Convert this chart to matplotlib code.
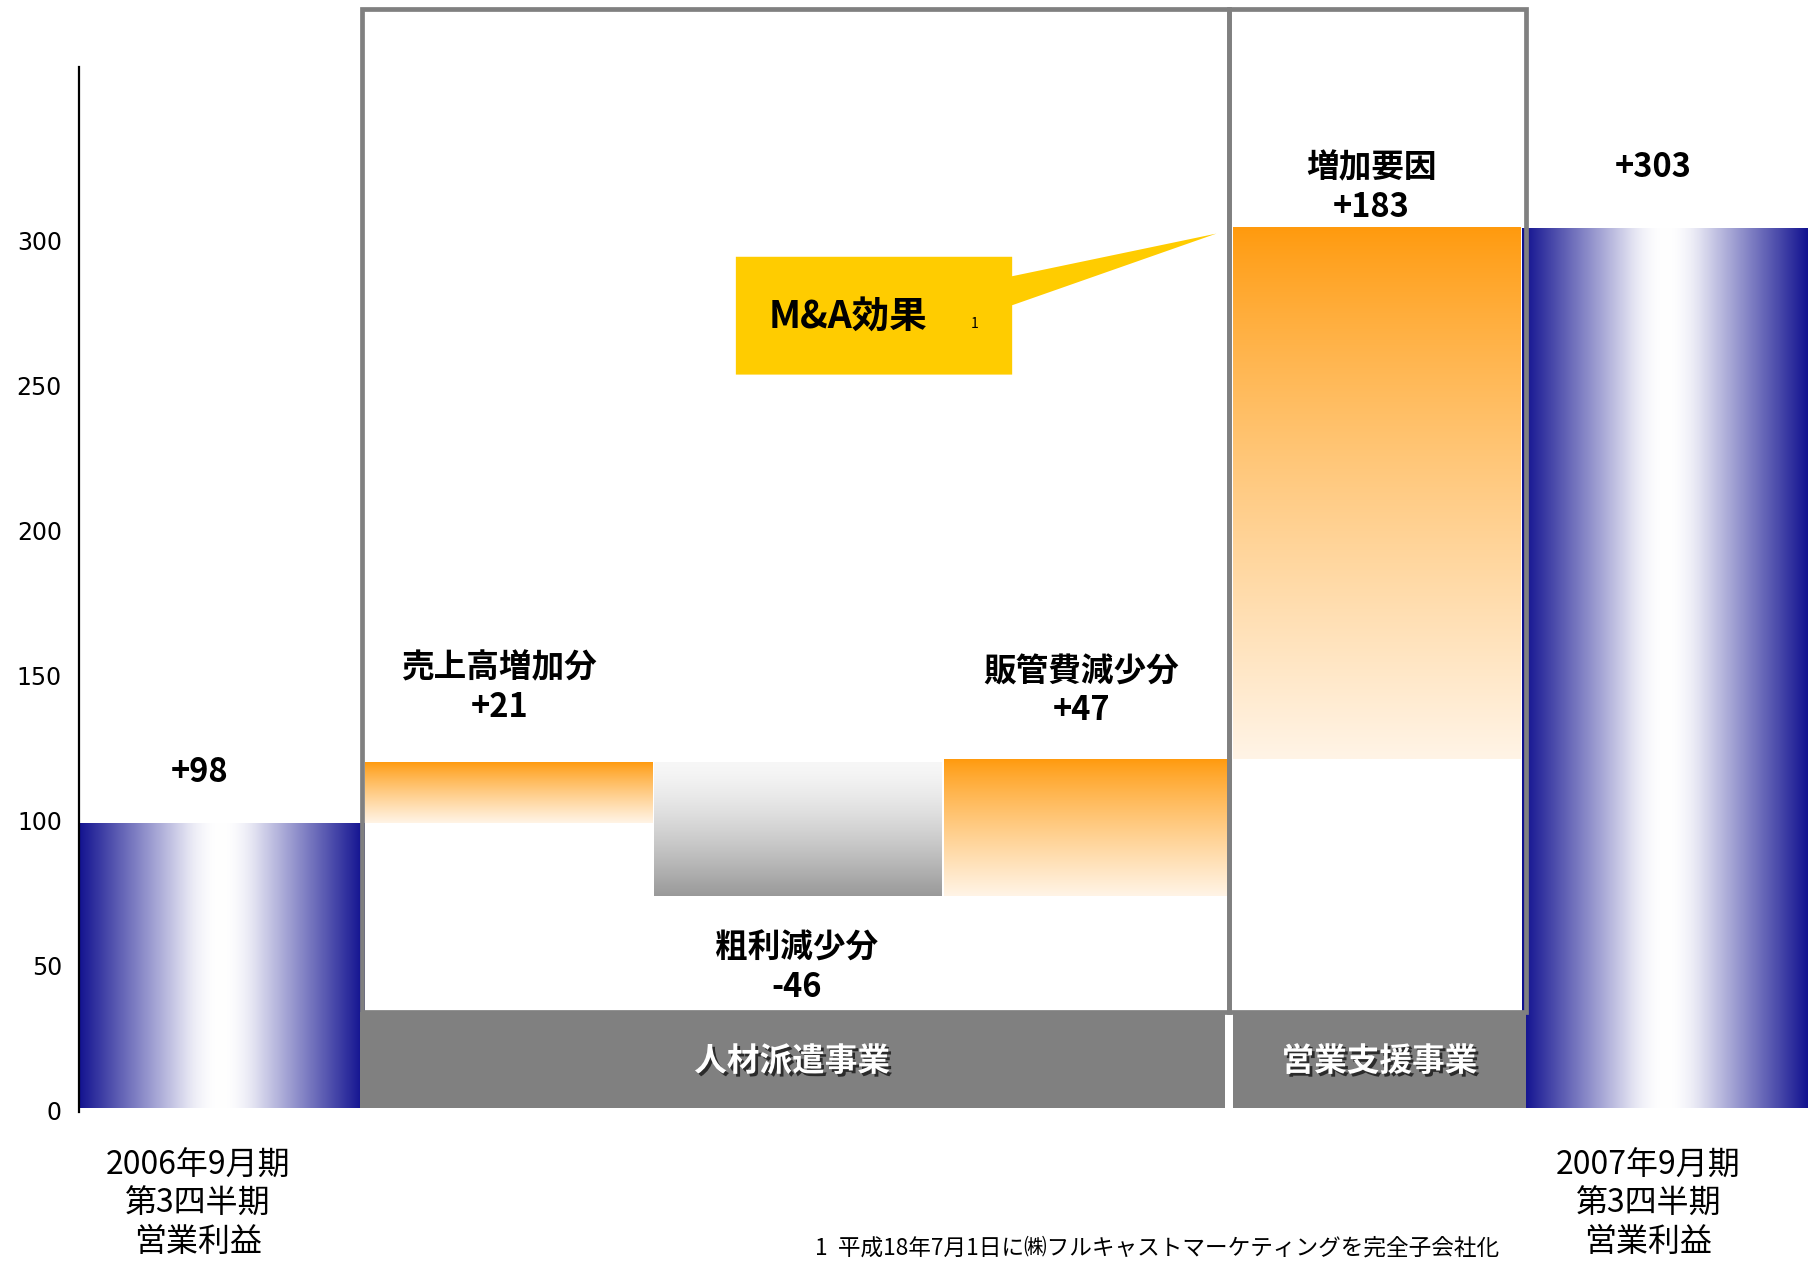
import numpy as np
import matplotlib
matplotlib.use('Agg')
import matplotlib.pyplot as plt
from matplotlib.patches import Rectangle, Polygon
from matplotlib.colors import to_rgb
import matplotlib.patheffects as pe
from matplotlib.transforms import ScaledTranslation

plt.rcParams['font.family'] = ['Noto Sans CJK JP', 'DejaVu Sans']

# ---------------- data ----------------
x_labels = ['2006年9月期\n第3四半期\n営業利益', '', '', '', '', '2007年9月期\n第3四半期\n営業利益']
bar_titles = ['', '売上高増加分', '粗利減少分', '販管費減少分', '増加要因', '']
start_value = 98
deltas = [21, -46, 47, 183]
end_value = 303
value_labels = ['+98', '+21', '-46', '+47', '+183', '+303']
segment_names = ['人材派遣事業', '営業支援事業']
segment_members = [[1, 2, 3], [4]]
yticks = [0, 50, 100, 150, 200, 250, 300]
callout_text = 'M&A効果'
callout_note = '1'
footnote = '1  平成18年7月1日に㈱フルキャストマーケティングを完全子会社化'

# ------------- waterfall geometry from data -------------
bottoms, heights = [0], [start_value]
cum = start_value
for d in deltas:
    bottoms.append(cum if d > 0 else cum + d)
    heights.append(abs(d))
    cum += d
bottoms.append(0)
heights.append(end_value)
xpos = np.arange(len(heights))

styles = ['blue', 'orange', 'gray', 'orange', 'orange', 'blue']

# ---------------- figure ----------------
W, H = 1813, 1263
fig = plt.figure(figsize=(W / 100, H / 100), dpi=100)
fig.patch.set_facecolor('white')
ax = fig.add_axes([78.6 / W, 155.4 / H, 1728.4 / W, 1040.6 / H])
ax.set_facecolor('white')


def vgrad(top, bot, n=256, power=1.0):
    t = np.linspace(0, 1, n) ** power
    a, b = np.array(to_rgb(top)), np.array(to_rgb(bot))
    arr = a[None, :] * (1 - t[:, None]) + b[None, :] * t[:, None]
    return arr[:, None, :]


def hgrad(edge, center, n=512, a=0.25):
    x = np.linspace(0, 1, n)
    t = np.abs(x - 0.5) * 2
    s = np.where(t < a, t ** 2 / (2 * a), t - a / 2) / (1 - a / 2)
    e, c = np.array(to_rgb(edge)), np.array(to_rgb(center))
    arr = c[None, :] * (1 - s[:, None]) + e[None, :] * s[:, None]
    return arr[None, :, :]


grads = {
    'blue': hgrad('#0e0e8e', '#ffffff'),
    'orange': vgrad('#ff9a0d', '#fff4e6', power=0.85),
    'gray': vgrad('#f7f7f7', '#999999', power=1.4),
}

bars = ax.bar(xpos, heights, bottom=bottoms, width=0.995,
              color='none', edgecolor='none', zorder=2)
for bar, st in zip(bars, styles):
    x0, y0 = bar.get_x(), bar.get_y()
    im = ax.imshow(grads[st], extent=[x0, x0 + bar.get_width(), y0, y0 + bar.get_height()],
                   aspect='auto', interpolation='bilinear', zorder=2)
    im.set_clip_path(bar)
    im.set_clip_box(ax.bbox)

# ---------- segment boxes and bands ----------
box_color = '#808080'
box_top = 378.5
band_top = 33.0
seg_bounds = [(0.49, 3.49), (3.49, 4.518)]
band_bounds = [(0.482, 3.475), (3.503, 4.518)]
for (l, r), (bl, br), name in zip(seg_bounds, band_bounds, segment_names):
    ax.add_patch(Rectangle((l, band_top), r - l, box_top - band_top, fill=False,
                           edgecolor=box_color, linewidth=3.4, clip_on=False, zorder=4))
    ax.add_patch(Rectangle((bl, 0), br - bl, band_top, facecolor=box_color,
                           edgecolor='none', clip_on=False, zorder=3))
    ax.text((bl + br) / 2, band_top / 2 - 0.6, name, ha='center', va='center', color='white',
            fontsize=23.5, fontweight='bold', zorder=5,
            path_effects=[pe.withSimplePatchShadow(offset=(2, -2), shadow_rgbFace='#222222', alpha=0.9)])

# ---------------- value labels ----------------
offs_y = [41.6, 45.5, -100.8, 39, 11.6, 51]
offs_x = [-21, -10, -2, -6, -5, -12]
for i, (title, lab) in enumerate(zip(bar_titles, value_labels)):
    txt = (title + '\n' + lab) if title else lab
    anchor_y = bottoms[i] + heights[i] if offs_y[i] > 0 else bottoms[i]
    ax.annotate(txt, xy=(xpos[i], anchor_y), xytext=(offs_x[i], offs_y[i]),
                textcoords='offset pixels', ha='center', va='baseline',
                fontsize=23.5, fontweight='bold', linespacing=1.24, zorder=6,
                multialignment='center')

# ---------------- callout ----------------
cx0, cx1, cy0, cy1 = 1.784, 2.740, 252.6, 293.2
tip = (3.447, 301.2)
poly = [(cx0, cy0), (cx1, cy0), (cx1, 276.5), tip, (cx1, 286.5), (cx1, cy1), (cx0, cy1)]
ax.add_patch(Polygon(poly, closed=True, facecolor='#ffcc00', edgecolor='none', zorder=5, clip_on=False))
ax.text(1.897, 272.9, callout_text, ha='left', va='center', fontsize=27, fontweight='bold', zorder=6)
ax.text(2.611, 270.1, callout_note, ha='center', va='center', fontsize=10, zorder=6)

# ---------------- axes styling ----------------
ax.set_xlim(-0.49, 5.49)
ax.set_ylim(0, 358.6)
for s in ['top', 'right', 'bottom']:
    ax.spines[s].set_visible(False)
ax.spines['left'].set_linewidth(1.6)
ax.spines['left'].set_color('black')
ax.spines['left'].set_zorder(7)
ax.spines['left'].set_bounds(-1.5, 358.6)
ax.set_yticks(yticks)
ax.set_yticklabels([str(v) for v in yticks], fontsize=17, family='DejaVu Sans')
ax.tick_params(axis='y', length=0, pad=12)
for lab in ax.get_yticklabels():
    lab.set_transform(lab.get_transform() + ScaledTranslation(0, -0.03, fig.dpi_scale_trans))
ax.set_xticks(xpos)
ax.set_xticklabels(x_labels, fontsize=23, linespacing=1.26)
ax.tick_params(axis='x', length=0, pad=30)
xshift = [-0.225, 0, 0, 0, 0, -0.17]
for lab, dx in zip(ax.get_xticklabels(), xshift):
    lab.set_transform(lab.get_transform() + ScaledTranslation(dx, 0, fig.dpi_scale_trans))

fig.text(815 / W, 8.5 / H, footnote, fontsize=16.3, va='baseline', ha='left')

fig.savefig('out.png', dpi=100, facecolor='white')
